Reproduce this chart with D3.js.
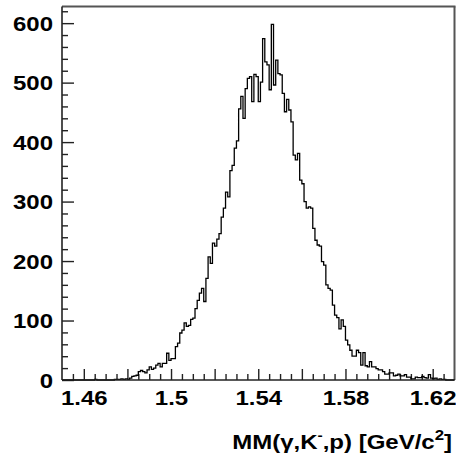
<!DOCTYPE html>
<html>
<head>
<meta charset="utf-8">
<script src="https://cdn.jsdelivr.net/npm/d3@7"></script>
<style>
  html, body { margin: 0; padding: 0; background: #fff; }
  svg { display: block; }
  text { font-family: "Liberation Sans", Arial, Helvetica, sans-serif; font-weight: bold; fill: #000; }
</style>
</head>
<body>
<svg id="chart" width="456" height="464"></svg>
<script>
// Missing-mass histogram, 1 MeV bins starting at 1.450 GeV/c^2
const binLow = 1.450;
const binWidth = 0.001;
const counts = [
  0, 0, 0, 0, 0, 0, 0, 0, 0, 0,            // 1.450 - 1.459
  0, 0, 0, 0, 0, 1, 0, 0, 0, 0,            // 1.460 - 1.469
  0, 0, 0, 0, 1, 1, 1, 2, 1, 2,            // 1.470 - 1.479
  1, 3, 6, 7, 8, 14, 16, 14, 12, 17,       // 1.480 - 1.489
  22, 18, 20, 25, 28, 22, 28, 28, 45, 33,  // 1.490 - 1.499
  36, 36, 56, 62, 79, 84, 96, 90, 92, 102, // 1.500 - 1.509
  104, 120, 134, 146, 154, 132, 171, 207, 196, 230, // 1.510 - 1.519
  225, 237, 246, 274, 289, 316, 308, 352, 361, 390, // 1.520 - 1.529
  402, 456, 477, 440, 490, 507, 510, 468, 514, 510, // 1.530 - 1.539
  468, 501, 574, 535, 530, 488, 598, 496, 538, 515, // 1.540 - 1.549
  513, 482, 451, 472, 454, 434, 378, 370, 381, 336, // 1.550 - 1.559
  330, 300, 289, 291, 289, 255, 235, 227, 225, 199, // 1.560 - 1.569
  193, 160, 154, 151, 126, 109, 105, 86, 101, 90,   // 1.570 - 1.579
  67, 59, 50, 40, 40, 50, 46, 25, 46, 24,           // 1.580 - 1.589
  22, 31, 22, 22, 19, 17, 17, 14, 10, 10,           // 1.590 - 1.599
  12, 12, 7, 8, 10, 7, 7, 9, 5, 5,                  // 1.600 - 1.609
  2, 2, 5, 4, 4, 6, 4, 3, 9, 3,                     // 1.610 - 1.619
  2, 3, 1, 2, 1, 1, 0, 0, 0, 0                      // 1.620 - 1.629
];

const xDomain = [1.45, 1.63];
const yDomain = [0, 628];
const xMajorTicks = [1.46, 1.48, 1.50, 1.52, 1.54, 1.56, 1.58, 1.60, 1.62];
const xLabelTicks = [1.46, 1.50, 1.54, 1.58, 1.62];
const xLabelText  = ["1.46", "1.5", "1.54", "1.58", "1.62"];
const yMajorTicks = [0, 100, 200, 300, 400, 500, 600];
const yLabelText  = ["0", "100", "200", "300", "400", "500", "600"];
const axisTitle = { main: "MM(\u03b3,K", sup1: "-", mid: ",p) [GeV/c", sup2: "2", tail: "]" };

const svg = d3.select("#chart");
const frame = { left: 62, right: 454.5, top: 6.5, bottom: 380 };
const textStretch = 1.2;

const x = d3.scaleLinear().domain(xDomain).range([frame.left, frame.right]);
const y = d3.scaleLinear().domain(yDomain).range([frame.bottom, frame.top]);

// minor ticks every 0.005 / every 20 counts
const xMinor = d3.range(1.455, 1.6299, 0.005).filter(v => !xMajorTicks.some(m => Math.abs(m - v) < 1e-6));
const yMinor = d3.range(20, 621, 20).filter(v => v % 100 !== 0);

function styleAxis(g) {
  g.select(".domain").remove();
  g.selectAll(".tick line").attr("stroke", "#222").attr("stroke-width", 1.4);
}

svg.append("g")
  .attr("transform", `translate(0,${frame.bottom})`)
  .call(d3.axisBottom(x).tickValues(xMinor).tickSizeInner(-6).tickSizeOuter(0).tickFormat(""))
  .call(styleAxis);

const xAxisG = svg.append("g")
  .attr("transform", `translate(0,${frame.bottom})`)
  .call(d3.axisBottom(x).tickValues(xMajorTicks).tickSizeInner(-11).tickSizeOuter(0)
    .tickFormat(d => {
      const k = xLabelTicks.findIndex(v => Math.abs(v - d) < 1e-9);
      return k >= 0 ? xLabelText[k] : "";
    }))
  .call(styleAxis);
xAxisG.selectAll(".tick text")
  .attr("y", null).attr("dy", null)
  .attr("font-size", 20)
  .attr("transform", `translate(0,25) scale(${textStretch},1)`);

svg.append("g")
  .attr("transform", `translate(${frame.left},0)`)
  .call(d3.axisLeft(y).tickValues(yMinor).tickSizeInner(-6).tickSizeOuter(0).tickFormat(""))
  .call(styleAxis);

const yAxisG = svg.append("g")
  .attr("transform", `translate(${frame.left},0)`)
  .call(d3.axisLeft(y).tickValues(yMajorTicks).tickSizeInner(-12).tickSizeOuter(0)
    .tickFormat((d, i) => yLabelText[i]))
  .call(styleAxis);
yAxisG.selectAll(".tick text")
  .attr("x", null).attr("dy", null)
  .attr("font-size", 20)
  .attr("transform", `translate(-9,7.2) scale(${textStretch},1)`);

// frame
svg.append("line").attr("x1", frame.left).attr("x2", frame.right + 1)
  .attr("y1", frame.top).attr("y2", frame.top)
  .attr("stroke", "#555").attr("stroke-width", 1.8);
svg.append("line").attr("x1", frame.right).attr("x2", frame.right)
  .attr("y1", frame.top).attr("y2", frame.bottom)
  .attr("stroke", "#555").attr("stroke-width", 2);
svg.append("line").attr("x1", frame.left).attr("x2", frame.left)
  .attr("y1", frame.top).attr("y2", frame.bottom)
  .attr("stroke", "#222").attr("stroke-width", 1.6);

// histogram outline
const pts = counts.map((c, i) => [binLow + i * binWidth, c]);
pts.push([binLow + counts.length * binWidth, counts[counts.length - 1]]);
svg.append("path")
  .datum(pts)
  .attr("fill", "none")
  .attr("stroke", "#000")
  .attr("stroke-width", 1.3)
  .attr("d", d3.line().x(d => x(d[0])).y(d => y(d[1])).curve(d3.curveStepAfter));

svg.append("line").attr("x1", frame.left).attr("x2", frame.right)
  .attr("y1", frame.bottom).attr("y2", frame.bottom)
  .attr("stroke", "#222").attr("stroke-width", 1.6);

// axis title
const title = svg.append("text")
  .attr("text-anchor", "end")
  .attr("font-size", 20)
  .attr("transform", `translate(452,449) scale(${textStretch},1)`);
title.append("tspan").text(axisTitle.main);
title.append("tspan").attr("font-size", 13).attr("dy", -9).text(axisTitle.sup1);
title.append("tspan").attr("dy", 9).text(axisTitle.mid);
title.append("tspan").attr("font-size", 14).attr("dy", -9).text(axisTitle.sup2);
title.append("tspan").attr("dy", 9).text(axisTitle.tail);
</script>
</body>
</html>
